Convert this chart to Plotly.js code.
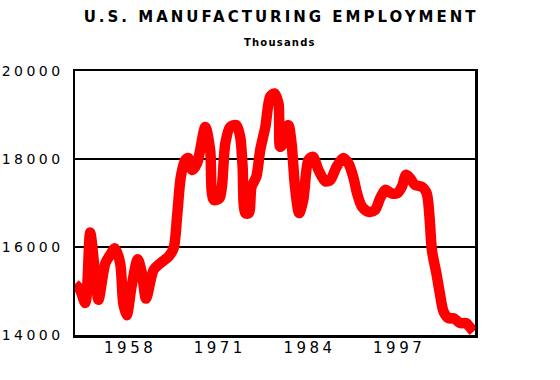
<!DOCTYPE html>
<html>
<head>
<meta charset="utf-8">
<script src="https://cdn.plot.ly/plotly-3.0.1.min.js"></script>
<style>
  html, body { margin: 0; padding: 0; background: #fff; }
  #chart { width: 560px; height: 380px; }
  .xtick text, .ytick text { letter-spacing: 3.5px; }
  .gtitle { letter-spacing: 3px; }
  .annotation-text { letter-spacing: 1.2px; }
</style>
</head>
<body>
<div id="chart"></div>
<script>
// Reading of the reference line (year, thousands of workers)
const years = [1950.0,1950.75,1951.5,1952.2,1952.9,1953.4,1954.4,1955.1,1955.8,1956.55,
  1957.0,1957.5,1958.2,1959.1,1959.7,1960.3,1961.4,1962.35,1963.55,1964.3,
  1964.8,1965.35,1966.0,1966.45,1967.0,1967.7,1968.9,1969.6,1970.1,1970.95,
  1971.3,1971.8,1972.5,1973.4,1973.95,1974.3,1974.7,1975.2,1975.6,1976.3,
  1976.85,1977.6,1978.3,1978.9,1979.5,1979.75,1980.2,1980.95,1981.4,1981.9,
  1982.5,1983.1,1983.85,1984.5,1985.3,1986.3,1987.0,1987.95,1988.85,1989.65,
  1990.4,1990.9,1991.6,1992.6,1993.5,1994.25,1995.0,1995.9,1996.7,1997.4,
  1998.0,1998.6,1999.3,2000.3,2001.0,2001.4,2001.75,2002.4,2002.9,2003.45,
  2004.2,2004.9,2005.85,2006.7,2007.4,2007.8];
const employment = [15160,15020,14730,16330,15400,14800,15630,15820,15970,15630,
  14720,14450,15100,15720,15400,14830,15480,15630,15780,15970,
  16690,17600,17980,18020,17750,17900,18730,18200,17070,17110,
  17370,18360,18730,18770,18510,17830,16770,16770,17370,17600,
  18200,18730,19420,19490,19270,18280,18360,18770,18360,17370,
  16770,17070,17980,18050,17750,17490,17520,17830,18020,17900,
  17560,17220,16920,16800,16840,17110,17300,17220,17220,17370,
  17640,17560,17410,17370,17220,16690,15930,15400,14950,14530,
  14380,14380,14270,14270,14150,14080];

const xTickVals = [1958, 1971, 1984, 1997];
const xTickText = ['1958', '1971', '1984', '1997'];
const yTickVals = [14000, 16000, 18000, 20000];
const yTickText = ['14000', '16000', '18000', '20000'];

const titleText = 'U.S. MANUFACTURING EMPLOYMENT';
const subtitleText = 'Thousands';

const trace = {
  x: years,
  y: employment,
  type: 'scatter',
  mode: 'lines',
  line: { color: '#ff0000', width: 10.5, shape: 'spline', smoothing: 0.8 },
  cliponaxis: false,
  hoverinfo: 'skip'
};

const layout = {
  width: 560,
  height: 380,
  margin: { l: 75, r: 85, t: 71, b: 45, pad: 0 },
  paper_bgcolor: '#ffffff',
  plot_bgcolor: '#ffffff',
  showlegend: false,
  font: { family: 'DejaVu Sans, Liberation Sans, sans-serif', color: '#000000' },
  title: {
    text: titleText,
    font: { family: 'DejaVu Sans, sans-serif', size: 15, color: '#000000', weight: 'bold' },
    xref: 'container', x: 0.502, xanchor: 'center',
    yref: 'container', y: 1 - 17 / 380, yanchor: 'middle'
  },
  annotations: [{
    text: subtitleText,
    xref: 'paper', x: 0.5125, xanchor: 'center',
    yref: 'paper', y: (335 - 42) / 264, yanchor: 'middle',
    showarrow: false,
    font: { family: 'DejaVu Sans, sans-serif', size: 10, color: '#000000', weight: 'bold' }
  }],
  xaxis: {
    range: [1950, 2008],
    tickmode: 'array',
    tickvals: xTickVals,
    ticktext: xTickText,
    ticks: '',
    showgrid: false,
    zeroline: false,
    showline: true,
    linecolor: '#000000',
    linewidth: 2.5,
    mirror: true,
    ticklabelstandoff: -3,
    tickfont: { family: 'DejaVu Sans, sans-serif', size: 15, color: '#000000' },
    fixedrange: true
  },
  yaxis: {
    range: [14000, 20000],
    tickmode: 'array',
    tickvals: yTickVals,
    ticktext: yTickText,
    ticks: '',
    showgrid: true,
    gridcolor: '#000000',
    gridwidth: 1.5,
    zeroline: false,
    showline: true,
    linecolor: '#000000',
    linewidth: 2.5,
    mirror: true,
    ticklabelstandoff: 6,
    tickfont: { family: 'DejaVu Sans, sans-serif', size: 14, color: '#000000' },
    fixedrange: true
  }
};

Plotly.newPlot('chart', [trace], layout, { displayModeBar: false, staticPlot: true });
</script>
</body>
</html>
